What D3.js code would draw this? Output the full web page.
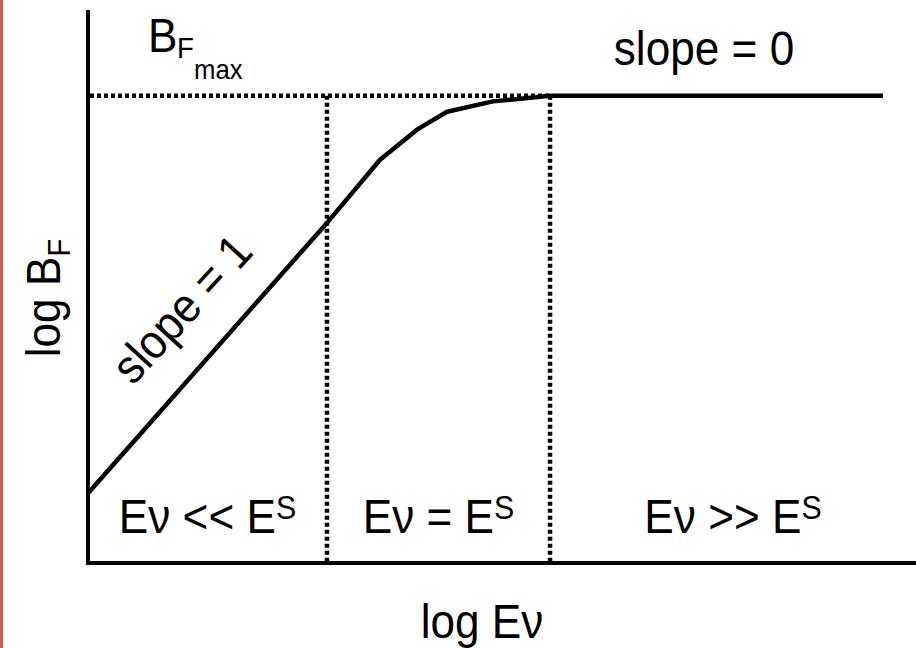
<!DOCTYPE html>
<html>
<head>
<meta charset="utf-8">
<script src="https://cdn.jsdelivr.net/npm/d3@7"></script>
<style>
  html, body { margin: 0; padding: 0; background: #fff; }
  svg text { font-family: "Liberation Sans", Arial, Helvetica, sans-serif; fill: #000; }
</style>
</head>
<body>
<svg id="chart" width="916" height="648"></svg>
<script>
// log Ev (x) vs log BF (y), schematic units
const curveX = [0, 2.886, 3.527, 3.973, 4.336, 4.891, 5.58, 9.6]
const curveY = [0.74, 3.61, 4.28, 4.60, 4.79, 4.90, 4.96, 4.96]
const bfMax = 4.96
const esBounds = [2.886, 5.58]        // edges of the Ev = Es region
const regionLabels = [
    { op: "<<", from: 0, to: 2.886 },
    { op: "=", from: 2.886, to: 5.58 },
    { op: ">>", from: 5.58, to: 10 }
]

const W = 916, H = 648
const FS = 48, SX = 0.92   // font narrower than Arial in the source

const svg = d3.select("#chart")

const x = d3.scaleLinear().domain([0, 10]).range([88, 916])
const y = d3.scaleLinear().domain([0, 5.87]).range([563, 10])

// red edge strip on the left
svg.append("rect")
    .attr("x", 0).attr("y", 0)
    .attr("width", 3).attr("height", H)
    .attr("fill", "#d85a44")

// dotted guides
const dots = svg.append("g")
    .attr("stroke", "#000")
    .attr("stroke-width", 4.5)
    .attr("stroke-dasharray", "4,3")
    .attr("fill", "none")

dots.append("line")
    .attr("x1", x(0) + 2).attr("x2", x(esBounds[1]))
    .attr("y1", y(bfMax)).attr("y2", y(bfMax))

dots.selectAll(".vline")
    .data(esBounds)
    .enter()
    .append("line")
    .attr("class", "vline")
    .attr("x1", d => x(d)).attr("x2", d => x(d))
    .attr("y1", y(bfMax)).attr("y2", y(0))

// the curve
const line = d3.line()
    .x(d => x(d[0]))
    .y(d => y(d[1]))

svg.append("path")
    .datum(d3.zip(curveX, curveY))
    .attr("d", line)
    .attr("fill", "none")
    .attr("stroke", "#000")
    .attr("stroke-width", 4.5)
    .attr("stroke-linejoin", "round")

// axes (plain lines, no ticks)
svg.append("line")
    .attr("x1", x(0)).attr("x2", x(0))
    .attr("y1", 10).attr("y2", y(0) + 2)
    .attr("stroke", "#000").attr("stroke-width", 4)

svg.append("line")
    .attr("x1", x(0) - 2).attr("x2", W)
    .attr("y1", y(0)).attr("y2", y(0))
    .attr("stroke", "#000").attr("stroke-width", 4)

// helper: text group with a horizontal squeeze
function label(tx, ty, rot) {
    return svg.append("g")
        .attr("transform", "translate(" + tx + "," + ty + ") rotate(" + (rot || 0) + ") scale(" + SX + ",1)")
        .append("text")
        .attr("font-size", FS)
}

// region labels  Ev << Es  etc.
regionLabels.forEach(function (r) {
    let t = label((x(r.from) + x(r.to)) / 2, 533)
        .attr("text-anchor", "middle")
    t.append("tspan").text("E\u03bd " + r.op + " E")
    t.append("tspan").attr("font-size", 33).attr("dy", -14).text("S")
})

// slope = 0
label(704, 65).attr("text-anchor", "middle").text("slope = 0")

// slope = 1, along the rising part
label(194, 320, -47.5).attr("text-anchor", "middle").text("slope = 1")

// BF max
label(148, 52).text("B")
label(177, 58).attr("font-size", 30).text("F")
label(194, 79).attr("font-size", 28).text("max")

// axis titles
label(482, 638).attr("text-anchor", "middle").text("log E\u03bd")

let yl = label(60, 298, -90).attr("text-anchor", "middle")
yl.append("tspan").text("log B")
yl.append("tspan").attr("font-size", 32).attr("dy", 10).text("F")
</script>
</body>
</html>
